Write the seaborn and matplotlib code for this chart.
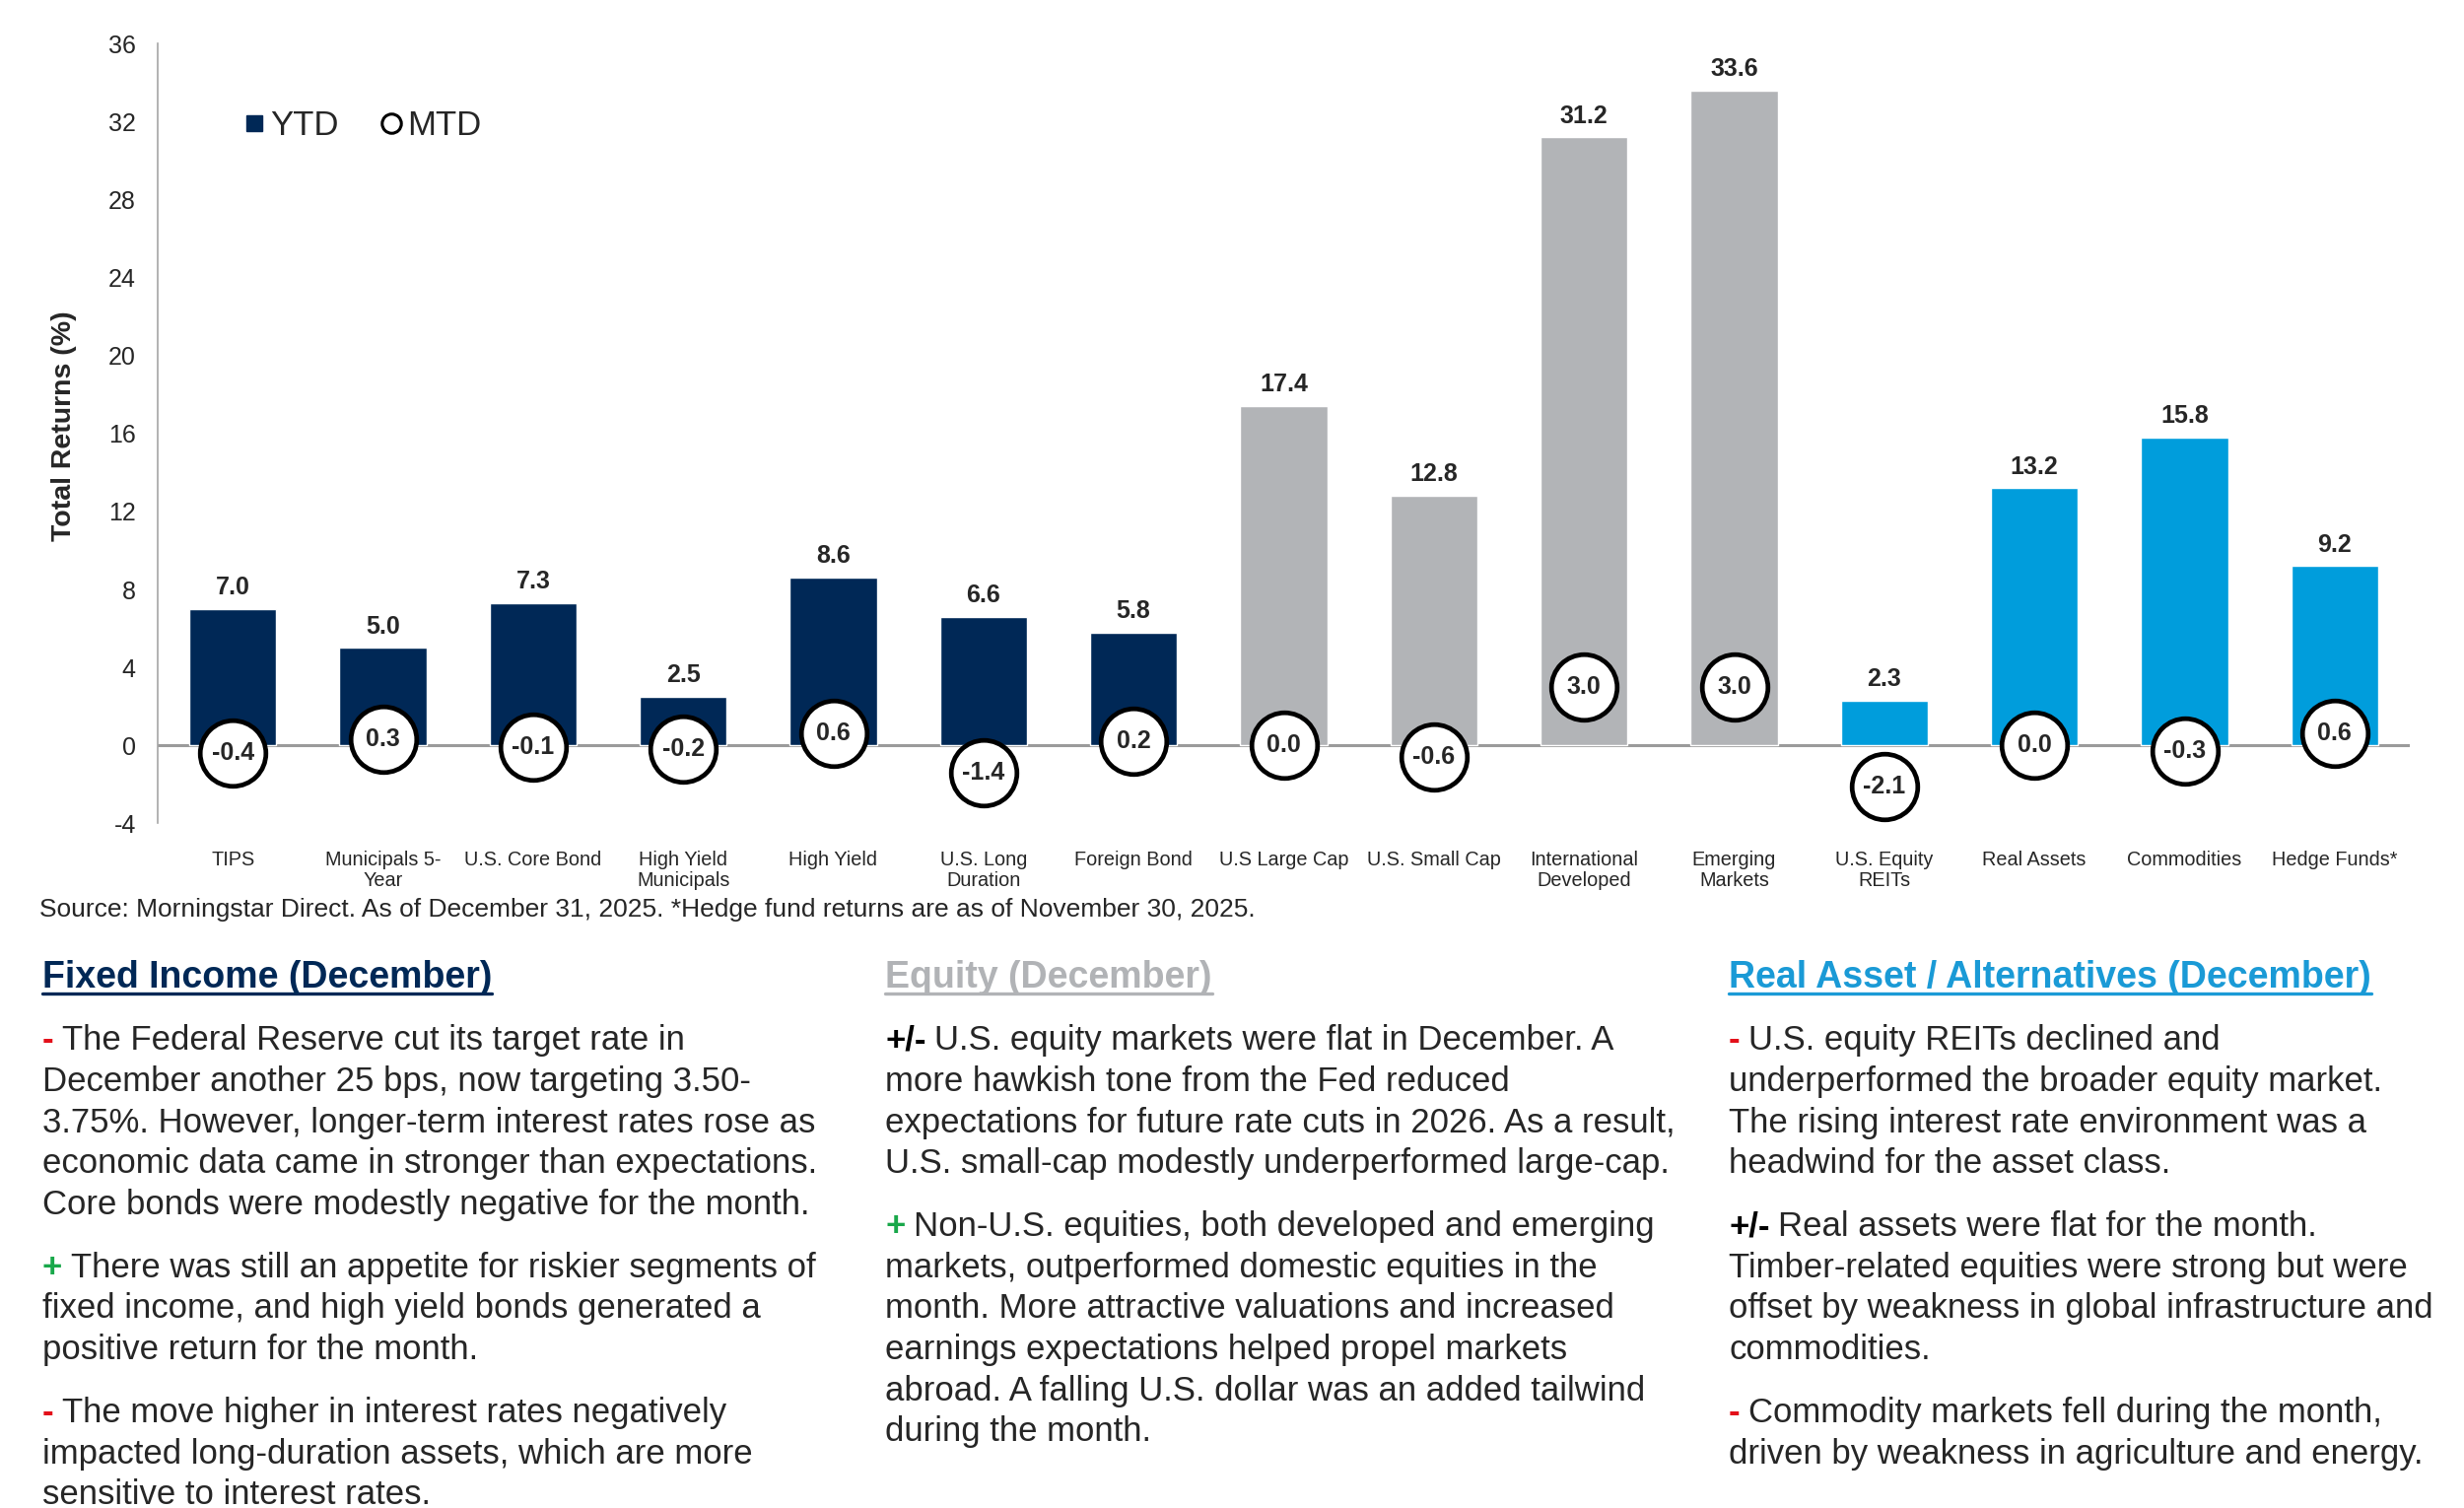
import matplotlib.pyplot as plt
import matplotlib.lines as mlines
from matplotlib.text import Annotation
import numpy as np
import pandas as pd
import seaborn as sns

# chart data
categories = ["TIPS", "Municipals 5-\nYear", "U.S. Core Bond", "High Yield\nMunicipals", "High Yield",
              "U.S. Long\nDuration", "Foreign Bond", "U.S Large Cap", "U.S. Small Cap",
              "International\nDeveloped", "Emerging\nMarkets", "U.S. Equity\nREITs", "Real Assets",
              "Commodities", "Hedge Funds*"]
ytd = [7.0, 5.0, 7.3, 2.5, 8.6, 6.6, 5.8, 17.4, 12.8, 31.2, 33.6, 2.3, 13.2, 15.8, 9.2]
mtd = [-0.4, 0.3, -0.1, -0.2, 0.6, -1.4, 0.2, 0.0, -0.6, 3.0, 3.0, -2.1, 0.0, -0.3, 0.6]
groups = ["Fixed Income"] * 7 + ["Equity"] * 4 + ["Real Assets"] * 4
yticks = list(range(-4, 37, 4))

navy = "#002856"
grey = "#b2b4b7"
blue = "#009ddc"
red = "#e3101a"
green = "#19a84a"
group_colors = {"Fixed Income": navy, "Equity": grey, "Real Assets": blue}

source_note = ("Source: Morningstar Direct. As of December 31, 2025. "
               "*Hedge fund returns are as of November 30, 2025.")

col_titles = ["Fixed Income (December)", "Equity (December)", "Real Asset / Alternatives (December)"]
col_title_colors = [navy, "#b1b3b6", "#1a9ad6"]

col1 = [("-", red, ["The Federal Reserve cut its target rate in",
                    "December another 25 bps, now targeting 3.50-",
                    "3.75%. However, longer-term interest rates rose as",
                    "economic data came in stronger than expectations.",
                    "Core bonds were modestly negative for the month."]),
        ("+", green, ["There was still an appetite for riskier segments of",
                      "fixed income, and high yield bonds generated a",
                      "positive return for the month."]),
        ("-", red, ["The move higher in interest rates negatively",
                    "impacted long-duration assets, which are more",
                    "sensitive to interest rates."])]
col2 = [("+/-", "black", ["U.S. equity markets were flat in December. A",
                          "more hawkish tone from the Fed reduced",
                          "expectations for future rate cuts in 2026. As a result,",
                          "U.S. small-cap modestly underperformed large-cap."]),
        ("+", green, ["Non-U.S. equities, both developed and emerging",
                      "markets, outperformed domestic equities in the",
                      "month. More attractive valuations and increased",
                      "earnings expectations helped propel markets",
                      "abroad. A falling U.S. dollar was an added tailwind",
                      "during the month."])]
col3 = [("-", red, ["U.S. equity REITs declined and",
                    "underperformed the broader equity market.",
                    "The rising interest rate environment was a",
                    "headwind for the asset class."]),
        ("+/-", "black", ["Real assets were flat for the month.",
                          "Timber-related equities were strong but were",
                          "offset by weakness in global infrastructure and",
                          "commodities."]),
        ("-", red, ["Commodity markets fell during the month,",
                    "driven by weakness in agriculture and energy."])]

df = pd.DataFrame({"category": categories, "ytd": ytd, "mtd": mtd, "group": groups})
df["pos"] = np.arange(len(df))

sns.set_style("white")
plt.rcParams["font.family"] = ["Liberation Sans", "DejaVu Sans"]
plt.rcParams["axes.unicode_minus"] = False

W, H = 2500, 1530
fig = plt.figure(figsize=(25, 15.3), dpi=100)
ax = fig.add_axes([0.064, 0.454, 0.914, 0.517])

ax.axhline(0, color="#9b9b9b", lw=2.2, zorder=0)
sns.barplot(data=df, x="category", y="ytd", hue="group", palette=group_colors,
            width=0.58, dodge=False, legend=False, saturation=1, ax=ax, zorder=2)
for c in ax.containers:
    ax.bar_label(c, fmt="%.1f", padding=7, fontsize=18, fontweight="bold")

sns.scatterplot(data=df, x="pos", y="mtd", marker="o", s=2300, color="white",
                edgecolor="black", linewidth=3.4, zorder=4, ax=ax, legend=False)
for i, v in enumerate(mtd):
    ax.text(i, v, f"{v:.1f}", ha="center", va="center", fontsize=18,
            fontweight="bold", zorder=5)

ax.set_xlim(-0.5, len(categories) - 0.5)
ax.set_ylim(-4, 36)
ax.set_yticks(yticks)
ax.set_xticks(df["pos"])
ax.set_xticklabels(categories, linespacing=1.1)
ax.tick_params(axis="y", length=0, labelsize=18, pad=16)
ax.tick_params(axis="x", length=0, labelsize=14.3, pad=20)
ax.set_xlabel("")
ax.set_ylabel("Total Returns (%)", fontsize=20.5, fontweight="bold")
ax.yaxis.set_label_coords(-0.036, 0.51)
for s in ["top", "right", "bottom"]:
    ax.spines[s].set_visible(False)
ax.spines["left"].set_color("#a6a6a6")
ax.spines["left"].set_linewidth(1.2)

handles = [mlines.Line2D([], [], marker="s", linestyle="", markersize=11,
                         markerfacecolor=navy, markeredgecolor=navy),
           mlines.Line2D([], [], marker="o", linestyle="", markersize=14,
                         markerfacecolor="white", markeredgecolor="black", markeredgewidth=2.2)]
ax.legend(handles, ["YTD", "MTD"], loc="upper left", bbox_to_anchor=(0.024, 0.955),
          ncol=2, frameon=False, fontsize=25, handletextpad=0.1, columnspacing=1.2,
          handlelength=0.7)

# text below the chart
fig.text(40 / W, 1 - 923 / H, source_note, fontsize=19, va="center")

fig.canvas.draw()
col_x = [43, 898, 1754]
for x, title, tc, paras in zip(col_x, col_titles, col_title_colors, [col1, col2, col3]):
    t = fig.text(x / W, 1 - 992 / H, title, fontsize=27, fontweight="bold", color=tc, va="center")
    bb = t.get_window_extent(fig.canvas.get_renderer())
    fig.add_artist(mlines.Line2D([bb.x0 / W, bb.x1 / W], [(bb.y0 + 2) / H] * 2,
                                 transform=fig.transFigure, color=tc, lw=2.4))
    y = 1056
    for prefix, pc, lines in paras:
        p = fig.text(x / W, 1 - y / H, prefix, fontsize=25, fontweight="bold",
                     color=pc, va="center")
        ann = Annotation(lines[0], xy=(1, 0), xycoords=p, xytext=(6, 0),
                         textcoords="offset points", va="bottom", ha="left", fontsize=25)
        fig.add_artist(ann)
        for line in lines[1:]:
            y += 41.6
            fig.text(x / W, 1 - y / H, line, fontsize=25, va="center")
        y += 41.6 + 22.4

fig.savefig("out.png", dpi=100)
